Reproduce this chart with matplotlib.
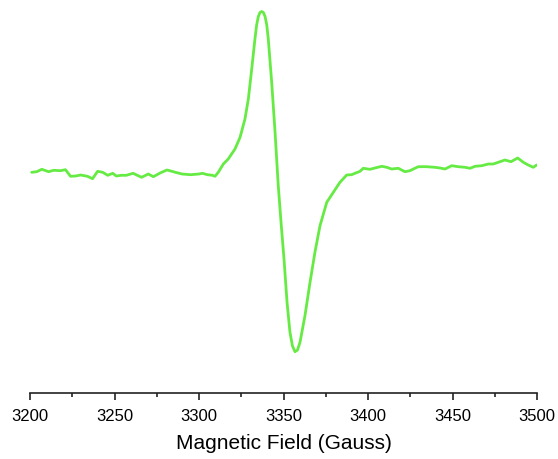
import matplotlib
matplotlib.use("Agg")
import matplotlib.pyplot as plt
from matplotlib.ticker import MultipleLocator

field = [3201, 3204, 3207, 3211, 3214, 3218, 3221, 3224, 3227, 3230,
         3234, 3237, 3240, 3243, 3246, 3249, 3251, 3254, 3257, 3261,
         3266, 3270, 3273, 3277, 3281, 3284, 3286, 3290, 3295, 3300,
         3302, 3305, 3308, 3309.5, 3311.4, 3314.4, 3317.3, 3321.3, 3324.3, 3327.2,
         3329.2, 3331.2, 3333.1, 3334.1, 3335.1, 3336.1, 3337.1, 3338.1, 3339.1, 3340.1,
         3341, 3343, 3345, 3346.9, 3348.7, 3350.3, 3352.1, 3353.8, 3355.3, 3356.8,
         3358.3, 3359.8, 3362.7, 3365.7, 3368.6, 3371.6, 3375.6, 3379.5, 3383.4, 3387.4,
         3390.3, 3392.3, 3395.3, 3397.2, 3401.2, 3404.1, 3408.1, 3411.1, 3414, 3417.9,
         3421.9, 3424.8, 3429.7, 3434.7, 3439.6, 3442.6, 3445.6, 3449.5, 3453.4, 3457.4,
         3460.4, 3463.3, 3467.3, 3471.2, 3474.1, 3477.1, 3481, 3484.6, 3488.6, 3491.9,
         3494.8, 3497.8, 3499.8]

signal = [-0.3, 0.3, 2.7, 0.3, 1.7, 1.3, 2.3, -4.3, -4.0, -3.0,
          -4.3, -6.7, 0.7, -0.3, -3.3, -1.3, -4.0, -3.3, -3.3, -1.3,
          -5.3, -2.0, -4.7, -1.0, 2.0, 0.7, -0.3, -2.0, -2.7, -2.0,
          -1.3, -2.7, -3.3, -4.3, -0.3, 8.0, 13.0, 23.0, 34.7, 53.0,
          73.0, 103.0, 133.0, 147.0, 155.5, 159.5, 160.5, 159.5, 155.5, 147.0,
          133.0, 90.0, 40.0, -13.7, -53.7, -87.0, -130.3, -160.0, -174.0, -179.7,
          -178.0, -170.0, -143.7, -110.3, -80.3, -53.7, -30.3, -20.3, -10.3, -3.0,
          -2.7, -1.3, 0.7, 3.7, 2.7, 4.0, 5.7, 4.7, 3.0, 3.7,
          0.3, 1.3, 5.3, 5.3, 4.7, 4.0, 3.0, 6.3, 5.3, 4.7,
          3.7, 5.7, 6.3, 8.0, 8.0, 9.7, 12.0, 10.3, 14.0, 9.7,
          7.0, 4.7, 7.0]

xticks = [3200, 3250, 3300, 3350, 3400, 3450, 3500]
xlabel = "Magnetic Field (Gauss)"

plt.rcParams['font.family'] = ['Liberation Sans', 'DejaVu Sans']

fig = plt.figure(figsize=(5.58, 4.60), dpi=100)
ax = fig.add_axes([30/558, 66/460, 507/558, 394/460])
ax.plot(field, signal, color='#66EB44', lw=2.0, solid_joinstyle='round',
        solid_capstyle='round')
ax.set_xlim(3200, 3500)
ax.set_ylim(-221, 173)

for s in ['top', 'right', 'left']:
    ax.spines[s].set_visible(False)
ax.spines['bottom'].set_linewidth(1.2)
ax.spines['bottom'].set_color('#222222')
ax.set_yticks([])
ax.set_xticks(xticks)
ax.xaxis.set_minor_locator(MultipleLocator(25))
ax.tick_params(axis='x', which='major', direction='out', length=5, width=1.2,
               color='#222222', labelsize=12, pad=6)
ax.tick_params(axis='x', which='minor', direction='out', length=3, width=1.2,
               color='#222222')
ax.set_xlabel(xlabel, fontsize=15, labelpad=7)

fig.savefig('out.png', dpi=100)
